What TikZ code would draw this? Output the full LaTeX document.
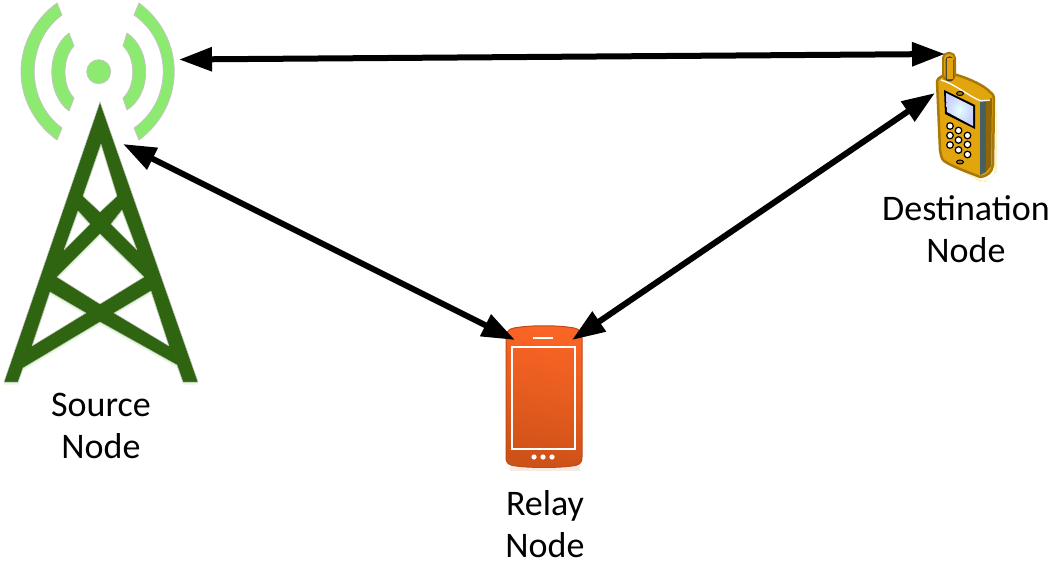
\documentclass[tikz,border=0pt]{standalone}
\usepackage{fontspec}
\setmainfont{Carlito}
\usetikzlibrary{arrows.meta}
\definecolor{towerg}{HTML}{2F6410}
\definecolor{wave}{HTML}{8DEA70}
\definecolor{edgeg}{HTML}{C4C4C4}
\definecolor{glow}{HTML}{E6F8DF}
\definecolor{gold}{HTML}{E3A50E}
\definecolor{golddk}{HTML}{A87908}
\definecolor{goldglow}{HTML}{FBF3C4}
\definecolor{relayA}{HTML}{FA6525}
\definecolor{relayB}{HTML}{CE5118}
\definecolor{relayE}{HTML}{BE4A14}
\tikzset{
  link/.style={line width=6pt,{Triangle[length=33pt,width=23pt]}-{Triangle[length=33pt,width=23pt]},shorten <=0pt,shorten >=0pt},
  caption/.style={align=center,font=\fontsize{36}{42}\selectfont,text=black,inner sep=0pt},
  wavearc/.style={fill=wave,draw=edgeg,line width=0.8pt,line join=round},
  keyb/.style={fill=white,draw=black,line width=1.2pt},
}
\newcommand{\towerpath}{
  (100,102) -- (198,382) -- (183,382) -- (177,365) -- (100,322) -- (23,368) -- (18,382) -- (4,382) -- cycle
  (101,144) -- (83,196) -- (100,212) -- (117,196) -- cycle
  (78,211) -- (90,224) -- (64,250) -- cycle
  (122,210) -- (111,224) -- (137,250) -- cycle
  (100,234) -- (144,277) -- (100,304) -- (57,277) -- cycle
  (50,292) -- (86,313) -- (32,346) -- cycle
  (151,291) -- (114,313) -- (169,346) -- cycle
}
\begin{document}
\begin{tikzpicture}[x=1pt,y=-1pt]
\useasboundingbox (0,0) rectangle (1058,567);
% tower
\fill[glow,even odd rule,yshift=-2.5pt] \towerpath;
\fill[towerg,even odd rule] \towerpath;
\draw[edgeg,line width=0.5pt,line join=round] \towerpath;
% waves
\path[wavearc] (57,3) -- (62,15) .. controls (25,42) and (25,101) .. (62,128) -- (57,140) .. controls (9,105) and (9,38) .. (57,3) -- cycle;
\path[wavearc] (69,33) -- (74,46) .. controls (62,58) and (62,86) .. (74,98) -- (69,111) .. controls (46,94) and (46,50) .. (69,33) -- cycle;
\path[wavearc] (127,33) -- (123,46) .. controls (136,58) and (136,86) .. (123,98) -- (127,110) .. controls (152,94) and (152,50) .. (127,33) -- cycle;
\path[wavearc] (139,3) -- (134,15) .. controls (173,42) and (173,101) .. (134,128) -- (139,140) .. controls (186,105) and (186,38) .. (139,3) -- cycle;
\path[wavearc] (98.7,71.7) circle[radius=12];
% relay phone
\fill[relayE!12] (510,464) rectangle (580,471);
\path[shade,top color=relayA,bottom color=relayB,middle color=relayA!55!relayB,shading angle=-12,draw=relayE,line width=1pt]
  (514,328) .. controls (530,325) and (558,325) .. (574,328) .. controls (580,329) and (582,333) .. (582,338)
  -- (582,457) .. controls (582,464) and (579,465) .. (572,466) .. controls (556,468) and (532,468) .. (516,466) .. controls (509,465) and (506,464) .. (506,457)
  -- (506,338) .. controls (506,333) and (508,329) .. (514,328) -- cycle;
\draw[white,line width=1.6pt] (512,347) rectangle (575,449);
\draw[white,line width=1.6pt] (533,338) -- (553,338);
\fill[white] (534,457) circle[radius=2.6] (543,457) circle[radius=2.6] (552,457) circle[radius=2.6];
% destination phone
\fill[goldglow] (942,160) -- (980,182) -- (994,176) -- (997,100) -- (997,172) -- (985,182) -- cycle;
\filldraw[fill=gold,draw=golddk,line width=2.5pt,line join=round]
  (937,81) .. controls (938,77) and (944,75) .. (948,75) -- (957,75) .. controls (970,79) and (985,86) .. (990,92) .. controls (993,94) and (994,96) .. (994,100)
  -- (993,165) .. controls (992,172) and (988,176) .. (980,177) .. controls (968,172) and (955,168) .. (944,161) .. controls (941,158) and (941,155) .. (940,150) -- cycle;
\fill[gray!70!black!80!teal] (980,101) -- (986,101) -- (986,172) -- (980,175) -- cycle;
\fill[golddk!85!black] (986,100) -- (992,98) -- (991,166) -- (986,172) -- cycle;
\draw[white,line width=1.3pt] (941,80) .. controls (955,84) and (970,97) .. (981,101) -- (990,100);
% antenna
\filldraw[fill=gold,draw=golddk,line width=2pt,rounded corners=5pt] (943,53) rectangle (955,80);
\filldraw[fill=golddk!70!black,draw=black!75,line width=1pt,rounded corners=3pt] (946,57) rectangle (953,81);
\fill[gold] (947,58.5) rectangle (952.5,79.5);
% screen
\fill[black] (944,90) -- (975,105) -- (975,129) -- (945,114) -- cycle;
\shade[inner color=white!90!cyan,outer color=cyan!15!blue!22!white] (946,93) -- (973,106.5) -- (973,126) -- (947,112) -- cycle;
% ear + mouth
\filldraw[fill=golddk,draw=black,line width=1pt] (960,93.5) ellipse[x radius=3.5,y radius=2];
\filldraw[fill=golddk,draw=black,line width=1pt] (960,162) ellipse[x radius=3.5,y radius=2];
% keys
\foreach \kx/\ky in {950/126,958.5/130.5,967.5/135.5,950/135.5,958.5/140,967.5/144.5,950/145,958.5/150,967.5/154.5}
  \filldraw[keyb] (\kx,\ky) circle[radius=3.3];
% connector ends
\coordinate (srcTop) at (179,59.5);
\coordinate (dstTop) at (945,54);
\coordinate (srcSide) at (123,144);
\coordinate (relayL) at (515,340);
\coordinate (relayR) at (572,340);
\coordinate (dstSide) at (935,93);
\draw[link] (srcTop) -- (dstTop);
\draw[link] (srcSide) -- (relayL);
\draw[link] (relayR) -- (dstSide);
% labels
\node[caption] (source) at (101,426) {Source\\Node};
\node[caption] (relay) at (545,524) {Relay\\Node};
\node[caption] (dest) at (966,229) {Destination\\Node};
\end{tikzpicture}
\end{document}
